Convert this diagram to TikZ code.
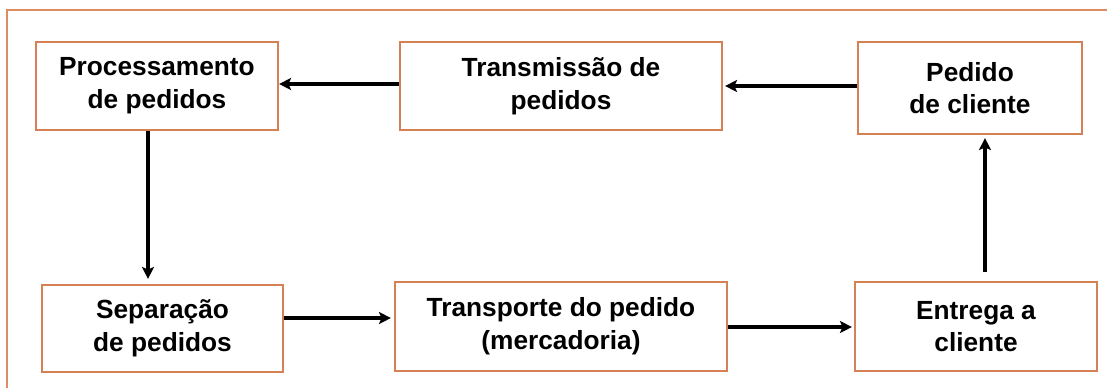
\documentclass[tikz,border=0pt]{standalone}
\usepackage{fontspec}
\setmainfont{Liberation Sans}
\usetikzlibrary{arrows.meta,calc}
\definecolor{boxor}{RGB}{214,128,86}
\definecolor{frameor}{RGB}{222,140,100}
\begin{document}
\begin{tikzpicture}[x=0.75pt,y=-0.75pt,
  stepbox/.style={draw=boxor,line width=1.6pt,fill=white,inner sep=0pt,align=center,
    font=\fontsize{19.7}{24.5}\selectfont\bfseries},
  arr/.style={line width=3pt,-{Stealth[length=9pt,width=9pt,inset=2pt]}}]
\useasboundingbox (0,0) rectangle (1107,387);
\draw[frameor,line width=1.5pt] (7,400) -- (7,10) -- (1120,10);
\node[stepbox,minimum width=242*0.75pt,minimum height=88*0.75pt] (proc) at (157,86) {Processamento\\de pedidos};
\node[stepbox,minimum width=322*0.75pt,minimum height=88*0.75pt] (trans) at (561,86) {Transmissão de\\pedidos};
\node[stepbox,minimum width=224*0.75pt,minimum height=92*0.75pt] (ped) at (970,88) {Pedido\\de cliente};
\node[stepbox,minimum width=241*0.75pt,minimum height=87*0.75pt] (sep) at (162.5,328.5) {Separação\\de pedidos};
\node[stepbox,minimum width=332*0.75pt,minimum height=89*0.75pt] (transp) at (561,326.5) {Transporte do pedido\\(mercadoria)};
\node[stepbox,minimum width=242*0.75pt,minimum height=89*0.75pt] (ent) at (976,326.5) {Entrega a\\cliente};
% arrows
\draw[arr] ($(trans.west)+(0,-2)$) -- ($(proc.east)+(0,-2)$);
\draw[arr] ($(ped.west)+(0,-2)$) -- ($(trans.east)+(2,0)$);
\draw[arr,shorten >=5*0.75pt] ($(proc.south)+(-9,0)$) -- ($(proc.south |- sep.north)+(-9,0)$);
\draw[arr,shorten >=3*0.75pt] ($(sep.east)+(0,-10.5)$) -- ($(transp.west)+(0,-8.5)$);
\draw[arr,shorten >=2*0.75pt] ($(transp.east)+(0,0.5)$) -- ($(ent.west)+(0,0.5)$);
\draw[arr,shorten >=3*0.75pt] ($(ent.north)+(9,-9)$) -- ($(ent.north |- ped.south)+(9,0)$);
\end{tikzpicture}
\end{document}
